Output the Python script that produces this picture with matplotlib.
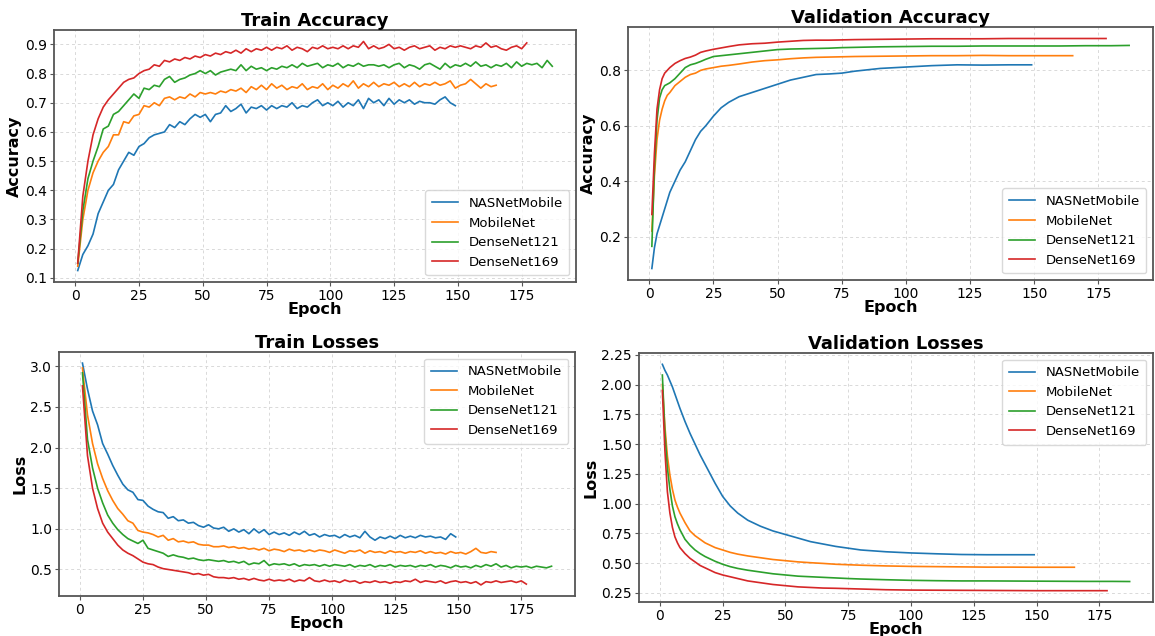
import matplotlib
matplotlib.use("Agg")
import matplotlib.pyplot as plt
import numpy as np

plt.rcParams['font.family'] = ['DejaVu Sans']

MODELS = ["NASNetMobile", "MobileNet", "DenseNet121", "DenseNet169"]
COLORS = ["#1f77b4", "#ff7f0e", "#2ca02c", "#d62728"]
LAST_EPOCH = {"NASNetMobile": 149, "MobileNet": 165, "DenseNet121": 187, "DenseNet169": 177}
LAST_EPOCH_VAL = {"NASNetMobile": 149, "MobileNet": 165, "DenseNet121": 187, "DenseNet169": 178}

# training metrics are logged every second epoch (1, 3, 5, ...)
TRAIN_STEP = 2
# validation metrics are logged on this epoch schedule (plus the final epoch)
VAL_SCHEDULE = [1, 2, 3, 4, 5, 6, 7, 8, 10, 12, 14, 16, 18, 20, 22, 25, 28, 31, 35, 40,
                45, 50, 55, 60, 65, 70, 75, 80, 90, 100, 110, 120, 130, 140, 150, 160,
                170, 180]

train_acc_nasnet = [
    0.125, 0.18, 0.21, 0.25, 0.32, 0.36, 0.40, 0.42, 0.47, 0.50, 0.53, 0.52, 0.55, 0.56,
    0.58, 0.59, 0.595, 0.60, 0.625, 0.615, 0.635, 0.625, 0.645, 0.66, 0.65, 0.66, 0.635,
    0.66, 0.665, 0.69, 0.67, 0.68, 0.695, 0.665, 0.685, 0.68, 0.69, 0.675, 0.69, 0.68,
    0.69, 0.685, 0.70, 0.68, 0.69, 0.685, 0.70, 0.71, 0.69, 0.70, 0.69, 0.705, 0.685,
    0.70, 0.69, 0.71, 0.68, 0.715, 0.70, 0.71, 0.69, 0.715, 0.695, 0.71, 0.70, 0.71,
    0.695, 0.705, 0.70, 0.70, 0.695, 0.71, 0.72, 0.70, 0.69]
train_acc_mobilenet = [
    0.14, 0.30, 0.40, 0.46, 0.50, 0.53, 0.55, 0.59, 0.59, 0.635, 0.63, 0.655, 0.66, 0.69,
    0.685, 0.70, 0.69, 0.715, 0.72, 0.71, 0.72, 0.715, 0.73, 0.72, 0.735, 0.73, 0.735,
    0.73, 0.74, 0.735, 0.745, 0.74, 0.75, 0.735, 0.755, 0.745, 0.76, 0.745, 0.765, 0.75,
    0.76, 0.745, 0.755, 0.75, 0.765, 0.745, 0.755, 0.75, 0.765, 0.745, 0.76, 0.75, 0.765,
    0.755, 0.775, 0.75, 0.765, 0.755, 0.77, 0.755, 0.765, 0.76, 0.77, 0.755, 0.765, 0.755,
    0.77, 0.755, 0.765, 0.76, 0.77, 0.76, 0.765, 0.775, 0.75, 0.76, 0.765, 0.78, 0.765,
    0.75, 0.765, 0.755, 0.76]
train_acc_densenet121 = [
    0.15, 0.33, 0.44, 0.50, 0.55, 0.61, 0.62, 0.66, 0.67, 0.69, 0.71, 0.73, 0.715, 0.75,
    0.745, 0.76, 0.755, 0.78, 0.79, 0.77, 0.78, 0.785, 0.795, 0.80, 0.81, 0.80, 0.81,
    0.795, 0.805, 0.81, 0.815, 0.81, 0.83, 0.81, 0.825, 0.815, 0.82, 0.81, 0.82, 0.815,
    0.825, 0.82, 0.83, 0.82, 0.835, 0.825, 0.83, 0.835, 0.82, 0.83, 0.825, 0.835, 0.82,
    0.83, 0.825, 0.835, 0.825, 0.83, 0.83, 0.825, 0.83, 0.82, 0.83, 0.835, 0.82, 0.83,
    0.825, 0.815, 0.83, 0.835, 0.825, 0.815, 0.835, 0.82, 0.83, 0.825, 0.835, 0.825,
    0.84, 0.825, 0.83, 0.82, 0.83, 0.825, 0.835, 0.82, 0.84, 0.825, 0.835, 0.83, 0.835,
    0.82, 0.845, 0.825]
train_acc_densenet169 = [
    0.15, 0.38, 0.50, 0.59, 0.645, 0.685, 0.71, 0.73, 0.75, 0.77, 0.78, 0.785, 0.80,
    0.81, 0.815, 0.83, 0.825, 0.845, 0.84, 0.85, 0.845, 0.855, 0.85, 0.86, 0.855, 0.865,
    0.86, 0.87, 0.865, 0.875, 0.87, 0.88, 0.87, 0.885, 0.875, 0.885, 0.88, 0.89, 0.88,
    0.89, 0.885, 0.895, 0.88, 0.89, 0.885, 0.875, 0.89, 0.885, 0.895, 0.885, 0.89, 0.885,
    0.895, 0.885, 0.895, 0.89, 0.91, 0.885, 0.895, 0.885, 0.89, 0.90, 0.885, 0.89, 0.88,
    0.89, 0.895, 0.885, 0.89, 0.895, 0.88, 0.89, 0.885, 0.895, 0.89, 0.895, 0.89, 0.885,
    0.895, 0.89, 0.905, 0.89, 0.895, 0.885, 0.88, 0.89, 0.895, 0.885, 0.905]

train_loss_nasnet = [
    3.04, 2.72, 2.45, 2.28, 2.05, 1.92, 1.78, 1.66, 1.55, 1.48, 1.45, 1.36, 1.35, 1.28,
    1.24, 1.21, 1.20, 1.13, 1.15, 1.10, 1.11, 1.07, 1.08, 1.04, 1.02, 1.05, 1.01, 1.00,
    1.02, 0.97, 1.00, 0.96, 0.99, 0.94, 1.00, 0.95, 0.99, 0.93, 0.96, 0.93, 0.95, 0.92,
    0.96, 0.93, 0.97, 0.92, 0.94, 0.90, 0.93, 0.91, 0.92, 0.89, 0.93, 0.90, 0.92, 0.89,
    0.97, 0.90, 0.86, 0.90, 0.88, 0.91, 0.88, 0.92, 0.89, 0.91, 0.89, 0.92, 0.90, 0.91,
    0.89, 0.90, 0.87, 0.94, 0.90]
train_loss_mobilenet = [
    2.98, 2.40, 2.05, 1.80, 1.62, 1.47, 1.35, 1.25, 1.18, 1.10, 1.07, 0.98, 0.96, 0.95,
    0.93, 0.90, 0.92, 0.86, 0.88, 0.84, 0.85, 0.83, 0.84, 0.81, 0.80, 0.80, 0.78, 0.78,
    0.79, 0.77, 0.78, 0.76, 0.77, 0.75, 0.76, 0.74, 0.76, 0.73, 0.75, 0.74, 0.72, 0.75,
    0.73, 0.74, 0.72, 0.74, 0.72, 0.74, 0.73, 0.71, 0.74, 0.72, 0.70, 0.73, 0.72, 0.74,
    0.70, 0.73, 0.71, 0.72, 0.70, 0.73, 0.71, 0.72, 0.70, 0.72, 0.71, 0.73, 0.70, 0.72,
    0.70, 0.71, 0.69, 0.72, 0.70, 0.71, 0.69, 0.72, 0.76, 0.71, 0.70, 0.72, 0.71]
train_loss_densenet121 = [
    2.92, 2.10, 1.75, 1.50, 1.32, 1.17, 1.07, 0.99, 0.93, 0.88, 0.85, 0.82, 0.86, 0.76,
    0.74, 0.72, 0.70, 0.66, 0.68, 0.66, 0.65, 0.63, 0.64, 0.62, 0.61, 0.62, 0.61, 0.60,
    0.61, 0.59, 0.60, 0.58, 0.60, 0.56, 0.58, 0.57, 0.61, 0.55, 0.57, 0.56, 0.57, 0.55,
    0.57, 0.54, 0.56, 0.55, 0.56, 0.54, 0.56, 0.54, 0.56, 0.55, 0.54, 0.56, 0.53, 0.55,
    0.54, 0.56, 0.53, 0.55, 0.54, 0.56, 0.53, 0.55, 0.54, 0.55, 0.53, 0.55, 0.54, 0.56,
    0.53, 0.55, 0.54, 0.52, 0.55, 0.53, 0.54, 0.52, 0.55, 0.53, 0.56, 0.54, 0.57, 0.53,
    0.55, 0.52, 0.54, 0.53, 0.54, 0.52, 0.54, 0.53, 0.52, 0.54]
train_loss_densenet169 = [
    2.76, 1.90, 1.50, 1.25, 1.07, 0.96, 0.88, 0.80, 0.74, 0.70, 0.67, 0.63, 0.59, 0.57,
    0.56, 0.53, 0.51, 0.50, 0.49, 0.48, 0.47, 0.46, 0.44, 0.45, 0.43, 0.44, 0.41, 0.40,
    0.40, 0.39, 0.40, 0.38, 0.39, 0.37, 0.39, 0.37, 0.36, 0.38, 0.36, 0.37, 0.36, 0.38,
    0.35, 0.37, 0.36, 0.40, 0.36, 0.35, 0.37, 0.35, 0.36, 0.34, 0.37, 0.35, 0.36, 0.33,
    0.35, 0.34, 0.36, 0.34, 0.35, 0.33, 0.35, 0.34, 0.36, 0.35, 0.38, 0.34, 0.36, 0.35,
    0.34, 0.36, 0.33, 0.35, 0.36, 0.34, 0.35, 0.33, 0.35, 0.31, 0.35, 0.34, 0.36, 0.34,
    0.35, 0.36, 0.34, 0.36, 0.32]

val_acc_nasnet = [
    0.085, 0.16, 0.21, 0.24, 0.27, 0.30, 0.33, 0.36, 0.40, 0.44, 0.47, 0.51, 0.55, 0.58,
    0.60, 0.635, 0.665, 0.685, 0.705, 0.72, 0.735, 0.75, 0.765, 0.775, 0.785, 0.787,
    0.79, 0.797, 0.807, 0.812, 0.817, 0.82, 0.819, 0.82, 0.82]
val_acc_mobilenet = [
    0.22, 0.42, 0.55, 0.62, 0.66, 0.69, 0.71, 0.72, 0.745, 0.76, 0.775, 0.785, 0.79,
    0.80, 0.805, 0.81, 0.815, 0.818, 0.823, 0.83, 0.835, 0.838, 0.842, 0.845, 0.847,
    0.848, 0.849, 0.85, 0.851, 0.852, 0.853, 0.853, 0.854, 0.853, 0.853, 0.853, 0.853]
val_acc_densenet121 = [
    0.165, 0.45, 0.62, 0.70, 0.73, 0.745, 0.75, 0.755, 0.77, 0.79, 0.81, 0.82, 0.825,
    0.832, 0.84, 0.85, 0.853, 0.856, 0.86, 0.865, 0.87, 0.875, 0.877, 0.878, 0.879,
    0.88, 0.882, 0.883, 0.885, 0.886, 0.887, 0.887, 0.888, 0.888, 0.888, 0.888, 0.889,
    0.889, 0.89]
val_acc_densenet169 = [
    0.28, 0.50, 0.66, 0.73, 0.77, 0.79, 0.80, 0.81, 0.825, 0.835, 0.843, 0.848, 0.855,
    0.865, 0.87, 0.876, 0.881, 0.886, 0.892, 0.896, 0.898, 0.902, 0.905, 0.908, 0.909,
    0.909, 0.91, 0.911, 0.912, 0.913, 0.914, 0.914, 0.914, 0.915, 0.915, 0.915, 0.915,
    0.915]

val_loss_nasnet = [
    2.17, 2.12, 2.08, 2.03, 1.98, 1.92, 1.86, 1.80, 1.69, 1.59, 1.50, 1.41, 1.33, 1.25,
    1.17, 1.06, 0.98, 0.92, 0.86, 0.81, 0.77, 0.74, 0.71, 0.68, 0.66, 0.64, 0.625, 0.61,
    0.595, 0.585, 0.578, 0.572, 0.57, 0.57, 0.57]
val_loss_mobilenet = [
    2.00, 1.65, 1.40, 1.24, 1.12, 1.03, 0.97, 0.92, 0.84, 0.77, 0.73, 0.70, 0.67, 0.65,
    0.63, 0.61, 0.59, 0.575, 0.56, 0.545, 0.53, 0.52, 0.51, 0.503, 0.497, 0.49, 0.486,
    0.482, 0.476, 0.472, 0.47, 0.468, 0.466, 0.466, 0.465, 0.465, 0.465]
val_loss_densenet121 = [
    2.08, 1.60, 1.30, 1.12, 0.98, 0.89, 0.83, 0.78, 0.70, 0.65, 0.61, 0.58, 0.555, 0.535,
    0.515, 0.49, 0.47, 0.455, 0.44, 0.425, 0.41, 0.40, 0.39, 0.385, 0.38, 0.375, 0.37,
    0.366, 0.36, 0.355, 0.352, 0.35, 0.35, 0.349, 0.348, 0.347, 0.346, 0.346, 0.345]
val_loss_densenet169 = [
    1.95, 1.45, 1.10, 0.92, 0.80, 0.72, 0.67, 0.63, 0.58, 0.54, 0.51, 0.48, 0.46, 0.44,
    0.42, 0.40, 0.385, 0.37, 0.35, 0.335, 0.32, 0.31, 0.30, 0.295, 0.29, 0.288, 0.285,
    0.282, 0.276, 0.273, 0.272, 0.271, 0.27, 0.269, 0.268, 0.268, 0.268, 0.268]

train_acc = [train_acc_nasnet, train_acc_mobilenet, train_acc_densenet121, train_acc_densenet169]
train_loss = [train_loss_nasnet, train_loss_mobilenet, train_loss_densenet121, train_loss_densenet169]
val_acc = [val_acc_nasnet, val_acc_mobilenet, val_acc_densenet121, val_acc_densenet169]
val_loss = [val_loss_nasnet, val_loss_mobilenet, val_loss_densenet121, val_loss_densenet169]


def train_epochs(model):
    return np.arange(1, LAST_EPOCH[model] + 1, TRAIN_STEP)


def val_epochs(model):
    last = LAST_EPOCH_VAL[model]
    return np.array([e for e in VAL_SCHEDULE if e < last] + [last])


fig = plt.figure(figsize=(11.55, 6.36), dpi=100)
W, H = 1155, 636


def px_axes(left, top, right, bottom):
    return fig.add_axes([left / W, 1 - bottom / H, (right - left) / W, (bottom - top) / H])


panels = [
    (px_axes(54, 30, 576, 282), "Train Accuracy", "Accuracy", train_acc, train_epochs, "lower right"),
    (px_axes(628, 27, 1153, 280), "Validation Accuracy", "Accuracy", val_acc, val_epochs, "lower right"),
    (px_axes(59, 352, 575, 596), "Train Losses", "Loss", train_loss, train_epochs, "upper right"),
    (px_axes(639, 353, 1153, 602), "Validation Losses", "Loss", val_loss, val_epochs, "upper right"),
]

for ax, title, ylabel, series, epoch_fn, loc in panels:
    for name, color, values in zip(MODELS, COLORS, series):
        ax.plot(epoch_fn(name), values, color=color, lw=1.2, label=name)
    ax.set_title(title, fontsize=13, fontweight="bold", pad=3)
    ax.set_xlabel("Epoch", fontsize=11.5, fontweight="bold", labelpad=-1)
    ax.set_ylabel(ylabel, fontsize=11.5, fontweight="bold", labelpad=2)
    ax.set_xticks([0, 25, 50, 75, 100, 125, 150, 175])
    ax.tick_params(labelsize=10, length=3, pad=2, color="#555555")
    ax.grid(True, linestyle=(0, (3, 3)), color="#d9d9d9", lw=0.7)
    for sp in ax.spines.values():
        sp.set_color("#555555")
        sp.set_linewidth(1.3)
    leg = ax.legend(loc=loc, fontsize=9.5, frameon=True, borderpad=0.5,
                    handlelength=2.0, labelspacing=0.5)
    leg.get_frame().set_edgecolor("#d0d0d0")

panels[3][0].set_yticks([0.25, 0.5, 0.75, 1.0, 1.25, 1.5, 1.75, 2.0, 2.25])
panels[3][0].yaxis.set_major_formatter(matplotlib.ticker.FormatStrFormatter("%.2f"))

fig.savefig("out.png", dpi=100)
